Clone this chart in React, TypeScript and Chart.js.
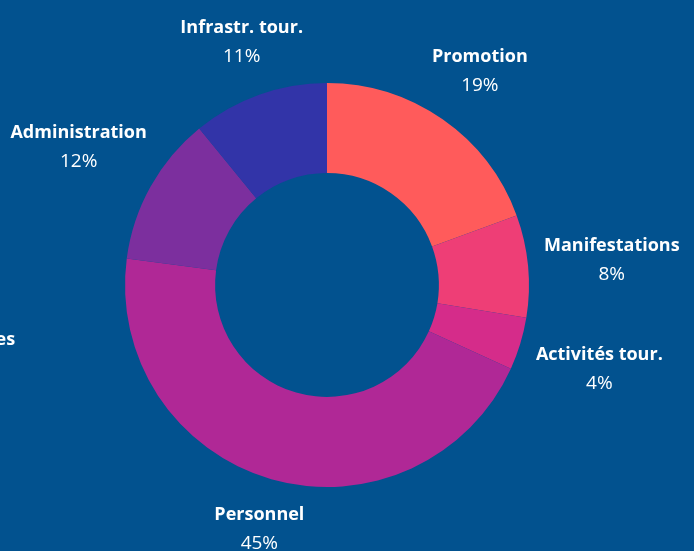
import React, { useEffect, useRef } from "react";
import { Chart, registerables } from "chart.js";

Chart.register(...registerables);

const categories = [
  "Promotion",
  "Manifestations",
  "Activités tour.",
  "Personnel",
  "Autres charges",
  "Administration",
  "Infrastr. tour.",
];
const values = [19.4, 8.2, 4.2, 45.3, 0, 12.0, 10.9];
const colors = ["#FF5B5B", "#EE3E76", "#D52C8A", "#B02896", "#9A2A9A", "#7C2F9E", "#3234A8"];

const BG = "#02528F";

const labelPlugin = {
  id: "outerLabels",
  afterDraw(chart: any, _args: any, opts: any) {
    const ctx = chart.ctx;
    const meta = chart.getDatasetMeta(0);
    const data = chart.data.datasets[0].data as number[];
    const total = data.reduce((a: number, b: number) => a + b, 0);
    const nameFont = opts.nameFont;
    const pctFont = opts.pctFont;
    const overrides = opts.overrides || {};
    meta.data.forEach((arc: any, i: number) => {
      const p = arc.getProps(["x", "y", "startAngle", "endAngle", "outerRadius"], true);
      const mid = (p.startAngle + p.endAngle) / 2;
      const name = chart.data.labels[i] as string;
      const pct = Math.round((data[i] / total) * 100) + "%";
      ctx.save();
      ctx.font = nameFont;
      const w1 = ctx.measureText(name).width;
      ctx.font = pctFont;
      const w2 = ctx.measureText(pct).width;
      const w = Math.max(w1, w2);
      const h = opts.blockHeight;
      const c = Math.cos(mid);
      const s = Math.sin(mid);
      const r = p.outerRadius + opts.gap + (w / 2) * Math.abs(c) + (h / 2) * Math.abs(s);
      let cx = p.x + c * r + opts.shiftX;
      let cy = p.y + s * r + opts.shiftY;
      if (overrides[i]) {
        cx = overrides[i].x;
        cy = overrides[i].y;
      }
      ctx.textAlign = "center";
      ctx.textBaseline = "middle";
      ctx.fillStyle = "#ffffff";
      ctx.font = nameFont;
      ctx.fillText(name, cx, cy - opts.lineGap / 2);
      ctx.font = pctFont;
      ctx.fillText(pct, cx, cy + opts.lineGap / 2);
      ctx.restore();
    });
  },
};

export default function App() {
  const ref = useRef<HTMLCanvasElement | null>(null);
  useEffect(() => {
    document.body.style.margin = "0";
    document.body.style.background = BG;
    const chart = new Chart(ref.current as HTMLCanvasElement, {
      type: "doughnut",
      data: {
        labels: categories,
        datasets: [
          {
            data: values,
            backgroundColor: colors,
            borderWidth: 0,
          },
        ],
      },
      options: {
        animation: false,
        responsive: false,
        maintainAspectRatio: false,
        cutout: "55.4%",
        layout: { padding: { left: 125, right: 165, top: 83, bottom: 64 } },
        plugins: {
          legend: { display: false },
          tooltip: { enabled: false },
          outerLabels: {
            nameFont: "bold 18px 'Open Sans'",
            pctFont: "normal 19px 'Open Sans'",
            blockHeight: 54,
            gap: 12,
            lineGap: 29,
            shiftX: 2,
            shiftY: 2,
            overrides: { 4: { x: -52, y: 354 } },
          },
        } as any,
      },
      plugins: [labelPlugin],
    });
    return () => chart.destroy();
  }, []);
  return (
    <div style={{ width: 694, height: 551, background: BG }}>
      <canvas ref={ref} width={694} height={551} style={{ display: "block" }} />
    </div>
  );
}
